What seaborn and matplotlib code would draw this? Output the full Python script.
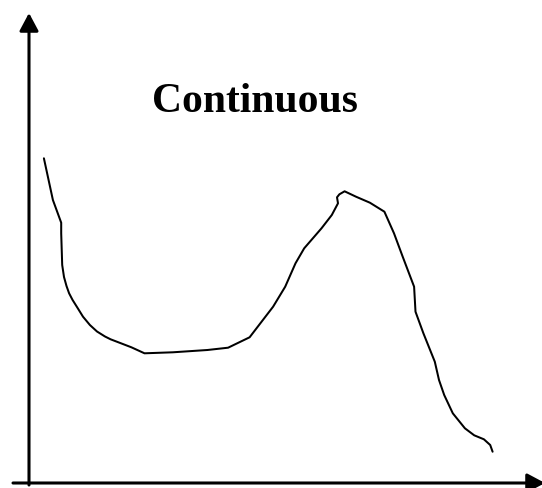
import matplotlib
matplotlib.use("Agg")
import matplotlib.pyplot as plt
import seaborn as sns

# hand drawn curve, measured from the axis origin (x right, y up)
curve_x = [14.9, 23.9, 32.2, 32.2, 33.2, 35.0, 37.5, 40.1, 43.6, 48.8, 54.0, 60.9, 68.0,
           76.0, 81.6, 102.4, 115.5,
           143.8, 178.4, 199.1, 220.6, 244.1, 256.2, 266.5, 275.2, 292.5, 302.8, 309.0,
           308.0, 310.4, 315.6, 327.0, 340.9, 355.4, 365.0, 373.7, 385.1, 386.5, 394.4,
           405.8, 410.0, 415.2, 423.8, 435.9, 445.2, 454.9, 461.2, 463.6]
curve_y = [324.7, 283.0, 260.3, 249.7, 218.0, 206.0, 197.0, 189.7, 183.0, 174.7, 166.3, 158.0, 151.5,
           146.5, 143.7, 135.7, 129.7,
           130.7, 133.0, 135.3, 145.7, 176.3, 196.3, 219.7, 234.7, 254.7, 268.0, 279.7,
           285.7, 288.7, 291.7, 286.3, 280.3, 271.3, 249.7, 226.3, 196.3, 171.3, 149.7,
           121.3, 103.0, 88.0, 69.7, 54.7, 47.7, 43.7, 38.0, 31.3]
title = "Continuous"

sns.set_theme(style="white")

fig = plt.figure(figsize=(5.42, 4.88), dpi=100)
ax = fig.add_axes([13 / 542, 5 / 488, 529 / 542, 470 / 488])
ax.patch.set_alpha(0)

sns.lineplot(x=curve_x, y=curve_y, sort=False, estimator=None,
             color="black", linewidth=1.45, ax=ax)

ax.set_xlim(-16, 513)
ax.set_ylim(0, 470)
ax.set_xticks([])
ax.set_yticks([])
sns.despine(ax=ax, left=True, bottom=True)

# axes drawn as arrows
arrow = dict(arrowstyle="-|>,head_length=0.75,head_width=0.4", mutation_scale=14.4,
             color="black", lw=2.2, shrinkA=0, shrinkB=0)
ax.annotate("", xy=(0, 470), xytext=(0, -2), arrowprops=arrow, annotation_clip=False)
ax.annotate("", xy=(516, 0), xytext=(-16, 0), arrowprops=arrow, annotation_clip=False)

fig.text(255 / 542, (488 - 112) / 488, title, ha="center", va="baseline", color="black",
         fontsize=30, fontweight="bold", family="Liberation Serif")

fig.savefig("out.png", dpi=100)
